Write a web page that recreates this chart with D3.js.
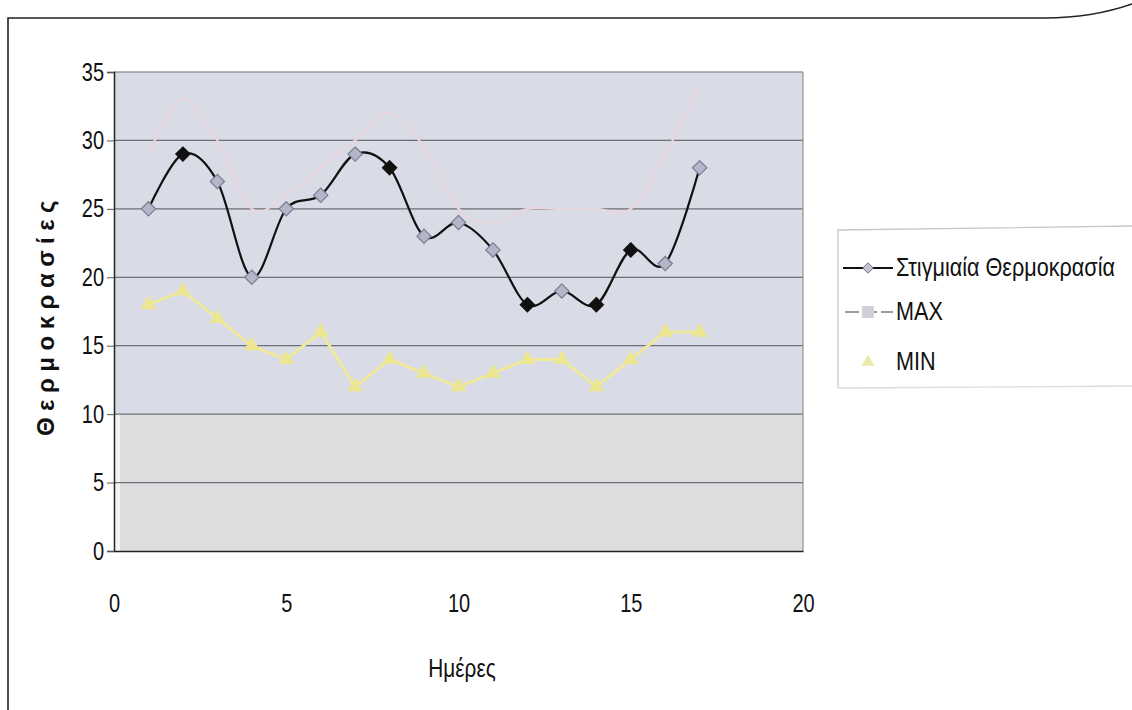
<!DOCTYPE html>
<html>
<head>
<meta charset="utf-8">
<script src="https://cdn.jsdelivr.net/npm/d3@7"></script>
<style>
  html, body { margin: 0; padding: 0; background: #fff; }
  svg { display: block; }
  text { font-family: 'Liberation Sans', Arial, sans-serif; fill: #111; }
  .narrow-end { transform-box: fill-box; transform-origin: right center; transform: scaleX(0.8); }
  .narrow-mid { transform-box: fill-box; transform-origin: center center; transform: scaleX(0.8); }
  .narrow-start { transform-box: fill-box; transform-origin: left center; transform: scaleX(0.865); }
</style>
</head>
<body>
<svg id="chart" width="1132" height="710"></svg>
<script>
// Days of the observation period
const days = [1, 2, 3, 4, 5, 6, 7, 8, 9, 10, 11, 12, 13, 14, 15, 16, 17];
// Instantaneous temperature readings
const instant = [25, 29, 27, 20, 25, 26, 29, 28, 23, 24, 22, 18, 19, 18, 22, 21, 28];
// Daily maximum
const maxTemp = [29, 33, 30, 25, 26, 28, 30, 32, 29.5, 25, 24, 25, 25, 25, 25, 29, 34];
// Daily minimum
const minTemp = [18, 19, 17, 15, 14, 16, 12, 14, 13, 12, 13, 14, 14, 12, 14, 16, 16];
// Axis ticks
const xTicks = [0, 5, 10, 15, 20];
const yTicks = [0, 5, 10, 15, 20, 25, 30, 35];
// Days whose instantaneous marker is drawn solid
const solidDays = [2, 8, 12, 14, 15];

const seriesNames = ["Στιγμιαία Θερμοκρασία", "MAX", "MIN"];
const xTitle = "Ημέρες";
const yTitle = "Θερμοκρασίες";

const svg = d3.select("#chart");
const x = d3.scaleLinear().domain([0, 20]).range([114, 803]);
const y = d3.scaleLinear().domain([0, 35]).range([551, 72]);

// Page frame (sheet edge, curling up at the right)
svg.append("path")
  .attr("d", "M8,710 L8,18 L1045,18 C1085,18 1112,11 1132,4")
  .attr("fill", "none").attr("stroke", "#222").attr("stroke-width", 1.6);

// Plot area background: two tones
svg.append("rect")
  .attr("x", x(0)).attr("y", y(35))
  .attr("width", x(20) - x(0)).attr("height", y(10) - y(35))
  .attr("fill", "#d9dbe6");
svg.append("rect")
  .attr("x", x(0) + 6).attr("y", y(10))
  .attr("width", x(20) - x(0) - 6).attr("height", y(0) - y(10))
  .attr("fill", "#dddedf");
svg.append("rect")
  .attr("x", x(0)).attr("y", y(10))
  .attr("width", 6).attr("height", y(0) - y(10))
  .attr("fill", "#f4f4f4");

// Horizontal gridlines
svg.append("g").selectAll("line")
  .data(yTicks.filter(d => d > 0 && d < 35))
  .join("line")
  .attr("x1", x(0)).attr("x2", x(20))
  .attr("y1", d => y(d)).attr("y2", d => y(d))
  .attr("stroke", "#6f7075").attr("stroke-width", 1.3);

// Plot border
svg.append("line").attr("x1", x(0)).attr("x2", x(20)).attr("y1", y(35)).attr("y2", y(35))
  .attr("stroke", "#9a9a9a").attr("stroke-width", 1.3);
svg.append("line").attr("x1", x(20)).attr("x2", x(20)).attr("y1", y(35)).attr("y2", y(0))
  .attr("stroke", "#9a9a9a").attr("stroke-width", 1.3);

// Axes
const yAxis = d3.axisLeft(y).tickValues(yTicks).tickSize(7).tickPadding(3).tickFormat(d3.format("d"));
const gy = svg.append("g").attr("transform", `translate(${x(0)},0)`).call(yAxis);
gy.select(".domain").attr("stroke", "#222").attr("stroke-width", 1.5);
gy.selectAll(".tick line").attr("stroke", "#555");
gy.selectAll(".tick text").attr("class", "narrow-end")
  .style("font-size", "25px").attr("font-family", null).attr("fill", "#111");

const xAxis = d3.axisBottom(x).tickValues(xTicks).tickSize(0).tickPadding(43).tickFormat(d3.format("d"));
const gx = svg.append("g").attr("transform", `translate(0,${y(0)})`).call(xAxis);
gx.select(".domain").attr("stroke", "#222").attr("stroke-width", 1.5);
gx.selectAll(".tick text").attr("class", "narrow-mid")
  .style("font-size", "25px").attr("font-family", null).attr("fill", "#111");

// Axis titles
svg.append("text").attr("x", 462).attr("y", 677).attr("class", "narrow-mid")
  .attr("text-anchor", "middle").style("font-size", "26px").text(xTitle);
svg.append("text")
  .attr("transform", "translate(54,315) rotate(-90)")
  .attr("text-anchor", "middle")
  .style("font-size", "24px").style("font-weight", "bold").style("letter-spacing", "6.5px")
  .text(yTitle);

const pts = vals => days.map((d, i) => [x(d), y(vals[i])]);
const smooth = d3.line().curve(d3.curveCatmullRom.alpha(0));

// MAX series: faint smoothed line
svg.append("path").attr("d", smooth(pts(maxTemp)))
  .attr("fill", "none").attr("stroke", "#e8d6de").attr("stroke-width", 2.2);

// MIN series: yellow line with triangles
svg.append("path").attr("d", d3.line()(pts(minTemp)))
  .attr("fill", "none").attr("stroke", "#efe99c").attr("stroke-width", 3);
const tri = d3.symbol().type(d3.symbolTriangle).size(110);
svg.append("g").selectAll("path")
  .data(days.map((d, i) => [d, minTemp[i]]))
  .join("path")
  .attr("transform", d => `translate(${x(d[0])},${y(d[1])})`)
  .attr("d", tri).attr("fill", "#ece693");

// Instantaneous series: black smoothed line with diamonds
svg.append("path").attr("d", smooth(pts(instant)))
  .attr("fill", "none").attr("stroke", "#111").attr("stroke-width", 2.2);
const dia = d3.symbol().type(d3.symbolDiamond2).size(130);
svg.append("g").selectAll("path")
  .data(days.map((d, i) => [d, instant[i]]))
  .join("path")
  .attr("transform", d => `translate(${x(d[0])},${y(d[1])})`)
  .attr("d", dia)
  .attr("fill", d => solidDays.includes(d[0]) ? "#111" : "#b3b6c9")
  .attr("stroke", d => solidDays.includes(d[0]) ? "#111" : "#7a7d90")
  .attr("stroke-width", 1.2);

// Legend
const lg = svg.append("g");
lg.append("path").attr("d", "M838,388 L838,230 L1132,226")
  .attr("fill", "none").attr("stroke", "#c8c8c8").attr("stroke-width", 1.3);
lg.append("line").attr("x1", 838).attr("x2", 1132).attr("y1", 388).attr("y2", 386)
  .attr("stroke", "#dcdcdc").attr("stroke-width", 1.3);

const rows = [268, 312, 362];
// entry 1
lg.append("line").attr("x1", 843).attr("x2", 893).attr("y1", rows[0]).attr("y2", rows[0])
  .attr("stroke", "#111").attr("stroke-width", 2);
lg.append("path").attr("transform", `translate(868,${rows[0]})`).attr("d", d3.symbol().type(d3.symbolDiamond2).size(70))
  .attr("fill", "#c3c5d3").attr("stroke", "#6d7083").attr("stroke-width", 1);
// entry 2
lg.append("line").attr("x1", 845).attr("x2", 893).attr("y1", rows[1]).attr("y2", rows[1])
  .attr("stroke", "#9b9ba0").attr("stroke-width", 2).attr("stroke-dasharray", "14,4");
lg.append("rect").attr("x", 862).attr("y", rows[1] - 6).attr("width", 12).attr("height", 12)
  .attr("fill", "#cfd0d8");
// entry 3
lg.append("path").attr("transform", `translate(868,${rows[2]})`).attr("d", d3.symbol().type(d3.symbolTriangle).size(70))
  .attr("fill", "#e8eca8");

lg.selectAll("text.lbl").data(seriesNames).join("text")
  .attr("class", "lbl narrow-start")
  .attr("x", 896).attr("y", (d, i) => rows[i] + 8)
  .style("font-size", "25px").text(d => d);
</script>
</body>
</html>
